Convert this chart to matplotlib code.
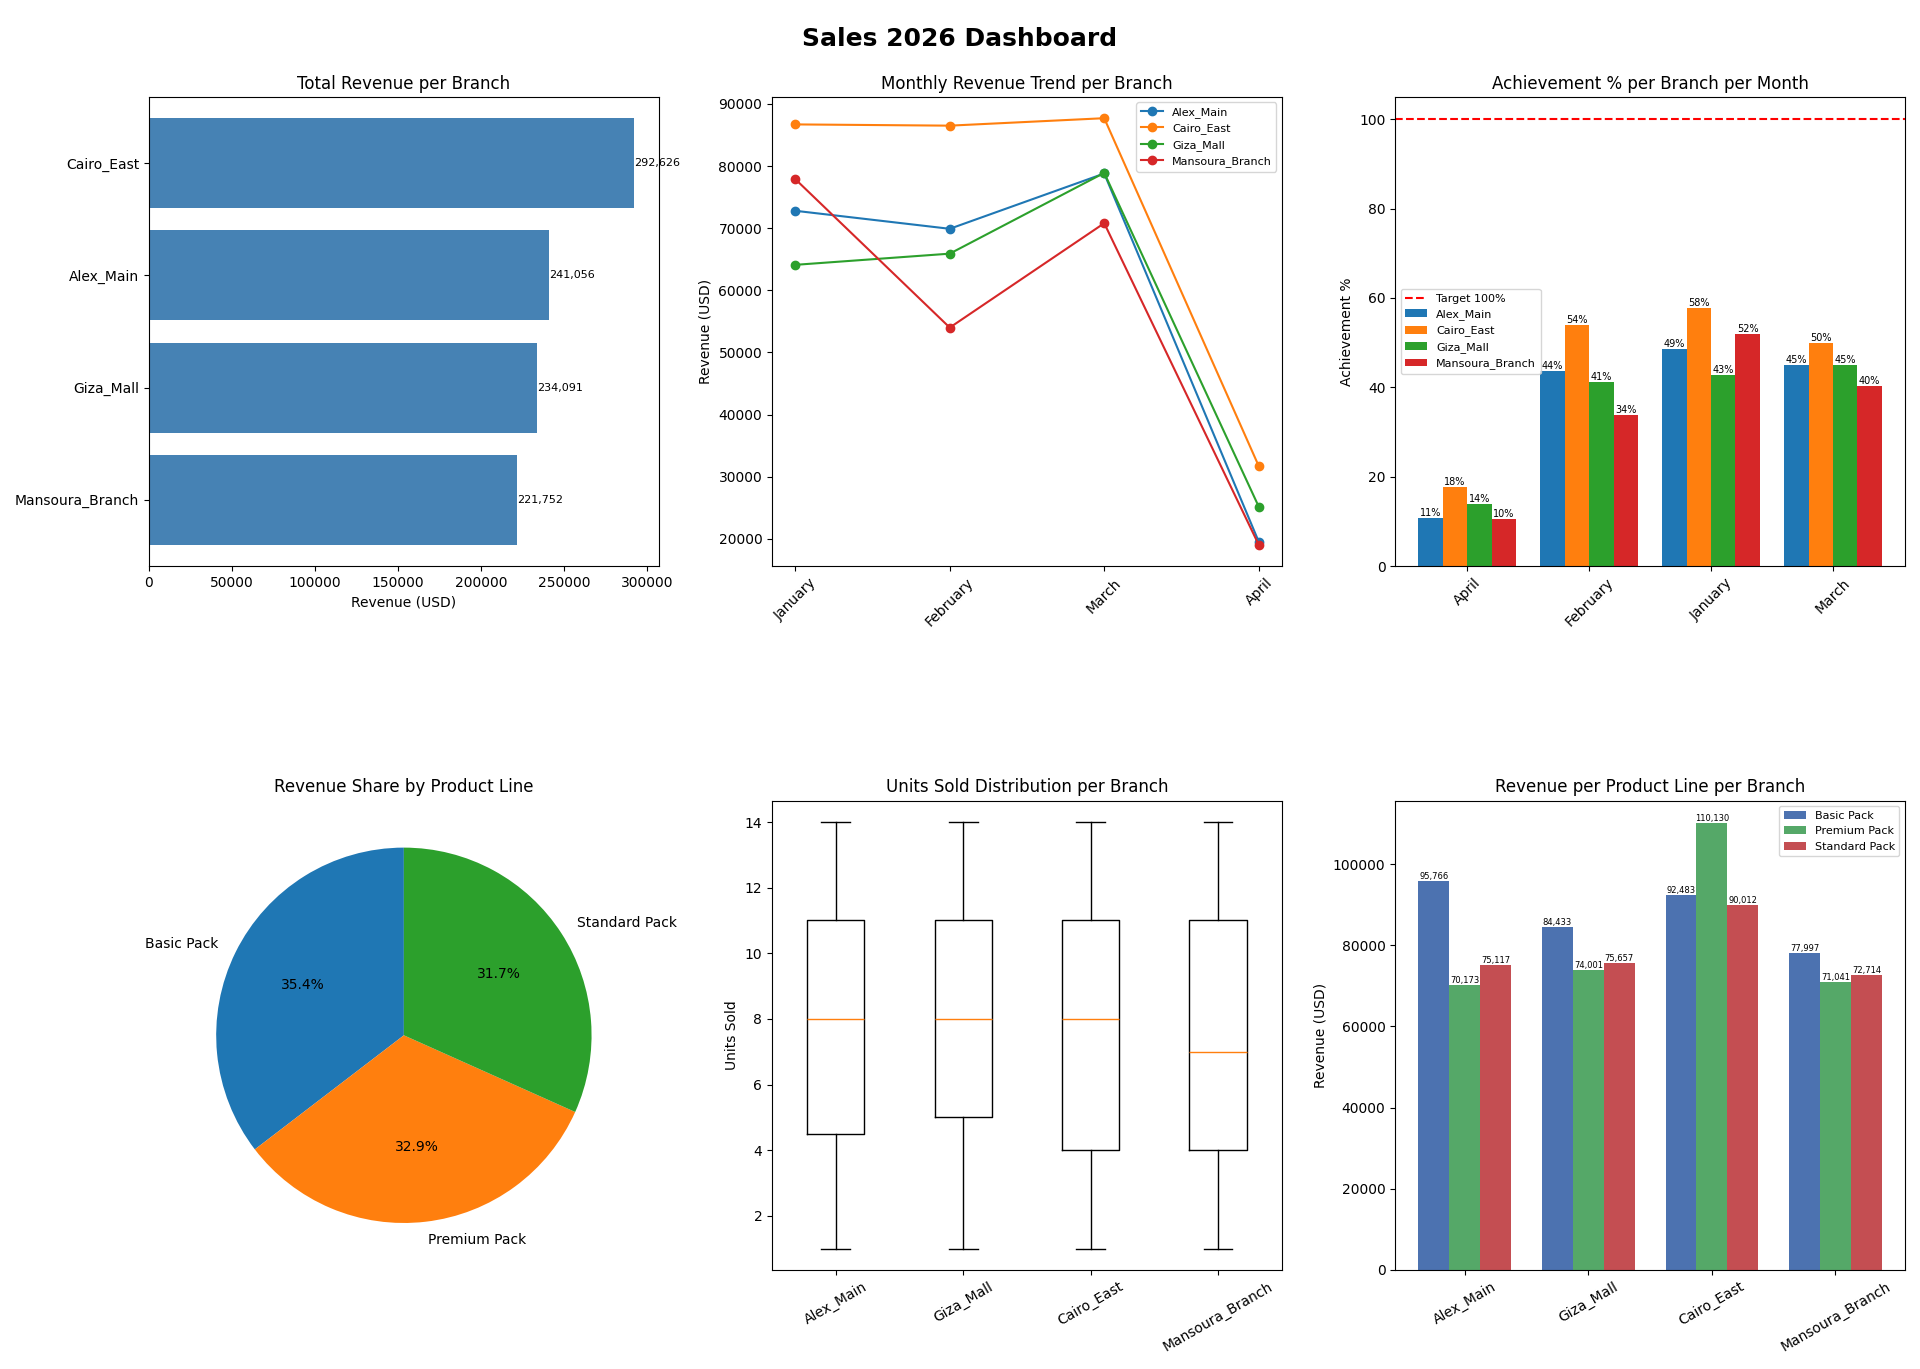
from matplotlib import pyplot as plt
import numpy as np

branches=['Alex_Main','Cairo_East','Giza_Mall','Mansoura_Branch']
months=['January','February','March','April']
monthly={'Alex_Main':[72800,69900,78800,19556],
         'Cairo_East':[86700,86500,87700,31726],
         'Giza_Mall':[64100,65900,78900,25191],
         'Mansoura_Branch':[77900,54000,70800,19052]}
totals={'Alex_Main':241056,'Cairo_East':292626,'Giza_Mall':234091,'Mansoura_Branch':221752}

ach_months=['April','February','January','March']
ach={'Alex_Main':[10.7,43.7,48.6,45.0],
     'Cairo_East':[17.6,54.0,57.8,50.0],
     'Giza_Mall':[13.9,41.2,42.7,45.0],
     'Mansoura_Branch':[10.5,33.7,51.9,40.3]}

products=['Basic Pack','Premium Pack','Standard Pack']
share=[35.4,32.9,31.7]

box_order=['Alex_Main','Giza_Mall','Cairo_East','Mansoura_Branch']
box={'Alex_Main':(1,4.5,8,11,14),'Giza_Mall':(1,5,8,11,14),
     'Cairo_East':(1,4,8,11,14),'Mansoura_Branch':(1,4,7,11,14)}

prod_rev={'Basic Pack':[95766,84433,92483,77997],
          'Premium Pack':[70173,74001,110130,71041],
          'Standard Pack':[75117,75657,90012,72714]}

fig,axes=plt.subplots(2,3,figsize=(19.2,13.69))
fig.suptitle('Sales 2026 Dashboard',fontsize=18,fontweight='bold')

# total revenue
ax=axes[0,0]
order=sorted(totals,key=totals.get)
vals=[totals[b] for b in order]
bars=ax.barh(order,vals,color='steelblue')
for bar,v in zip(bars,vals):
    ax.text(v,bar.get_y()+bar.get_height()/2,f'{v:,}',va='center',fontsize=8)
ax.set_title('Total Revenue per Branch')
ax.set_xlabel('Revenue (USD)')

# monthly trend
ax=axes[0,1]
for b in branches:
    ax.plot(months,monthly[b],marker='o',label=b)
ax.set_title('Monthly Revenue Trend per Branch')
ax.set_ylabel('Revenue (USD)')
ax.legend(fontsize=8)
ax.tick_params(axis='x',rotation=45)

# achievement
ax=axes[0,2]
x=np.arange(len(ach_months))
w=0.2
for i,b in enumerate(branches):
    bs=ax.bar(x+(i-1.5)*w,ach[b],w,label=b)
    for bar,v in zip(bs,ach[b]):
        ax.text(bar.get_x()+w/2,v,f'{v:.0f}%',ha='center',va='bottom',fontsize=7)
ax.axhline(100,color='red',linestyle='--',label='Target 100%')
ax.set_xticks(x)
ax.set_xticklabels(ach_months,rotation=45)
ax.set_ylim(0,105)
ax.set_title('Achievement % per Branch per Month')
ax.set_ylabel('Achievement %')
ax.legend(fontsize=8,loc='center left')

# pie
ax=axes[1,0]
ax.pie(share,labels=products,autopct='%1.1f%%',startangle=90)
ax.set_title('Revenue Share by Product Line')

# boxplot
ax=axes[1,1]
stats=[{'whislo':s[0],'q1':s[1],'med':s[2],'q3':s[3],'whishi':s[4],'fliers':[],'label':b}
       for b,s in ((b,box[b]) for b in box_order)]
ax.bxp(stats)
ax.set_title('Units Sold Distribution per Branch')
ax.set_ylabel('Units Sold')
ax.tick_params(axis='x',rotation=30)

# product per branch
ax=axes[1,2]
x=np.arange(len(box_order))
w=0.25
cols=['#4C72B0','#55A868','#C44E52']
for i,p in enumerate(products):
    bs=ax.bar(x+(i-1)*w,prod_rev[p],w,label=p,color=cols[i])
    for bar,v in zip(bs,prod_rev[p]):
        ax.text(bar.get_x()+w/2,v,f'{v:,}',ha='center',va='bottom',fontsize=6)
ax.set_xticks(x)
ax.set_xticklabels(box_order,rotation=30)
ax.set_title('Revenue per Product Line per Branch')
ax.set_ylabel('Revenue (USD)')
ax.legend(fontsize=8)

plt.tight_layout(rect=[0,0,1,0.985])
plt.subplots_adjust(hspace=0.5)
plt.savefig('out.png',dpi=100)
